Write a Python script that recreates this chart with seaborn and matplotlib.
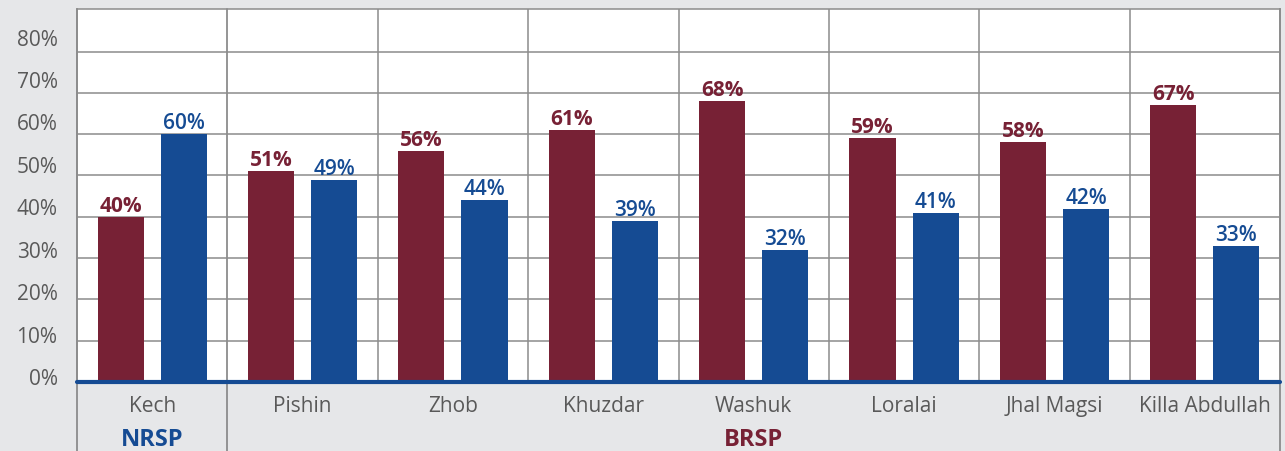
import pandas as pd
import matplotlib.pyplot as plt
import matplotlib.transforms as mtransforms
import seaborn as sns

districts = ["Kech", "Pishin", "Zhob", "Khuzdar", "Washuk", "Loralai", "Jhal Magsi", "Killa Abdullah"]
series_a = [40, 51, 56, 61, 68, 59, 58, 67]
series_b = [60, 49, 44, 39, 32, 41, 42, 33]
series_names = ["A", "B"]
y_ticks = [0, 10, 20, 30, 40, 50, 60, 70, 80]
groups = [("NRSP", 0, 0), ("BRSP", 1, 7)]

MAROON = "#772135"
BLUE = "#154b93"
BG = "#e6e7e9"
GRID = "#8c8c8c"
TXT = "#595959"

df = pd.DataFrame({
    "district": districts * 2,
    "value": series_a + series_b,
    "series": [series_names[0]] * len(districts) + [series_names[1]] * len(districts),
})

sns.set_theme(style="white")
plt.rcParams["font.family"] = ["Open Sans", "DejaVu Sans"]

fig = plt.figure(figsize=(12.85, 4.51), dpi=100, facecolor=BG)
ax = fig.add_axes([77 / 1285, 1 - 382 / 451, (1280 - 77) / 1285, (382 - 9) / 451])
ax.set_facecolor("white")

sns.barplot(data=df, x="district", y="value", hue="series", order=districts,
            palette=[MAROON, BLUE], width=0.84, gap=0.27, saturation=1,
            linewidth=0, legend=False, ax=ax, zorder=2)

ax.set_ylim(0, 90.3)
ax.set_xlim(-0.5, len(districts) - 0.5)
ax.set_yticks(y_ticks)
ax.set_yticklabels([f"{t}%" for t in y_ticks])
ax.tick_params(axis="y", length=0, pad=14, labelsize=15, labelcolor=TXT)
ax.tick_params(axis="x", length=0, pad=10, labelsize=15, labelcolor=TXT)
ax.set_xlabel("")
ax.set_ylabel("")

# tick labels sit a little above their grid lines, more so toward the top
for t, lab in zip(y_ticks, ax.get_yticklabels()):
    dy = (5 + 9 * t / 80) / 100
    lab.set_transform(lab.get_transform() + mtransforms.ScaledTranslation(0, dy, fig.dpi_scale_trans))

ax.yaxis.grid(True, color=GRID, linewidth=1.1, zorder=0)
ax.set_axisbelow(True)
for i in range(2, len(districts)):
    ax.axvline(i - 0.5, color=GRID, linewidth=1.1, zorder=1)

# separators that run down to the figure edge
for xv in [-0.5, 0.5, len(districts) - 0.5]:
    ax.axvline(xv, ymin=-0.2, ymax=1, color=GRID, linewidth=1.3, clip_on=False, zorder=1)

for side in ["top", "left", "right"]:
    ax.spines[side].set_color(GRID)
    ax.spines[side].set_linewidth(1.1)
ax.spines["bottom"].set_visible(False)
ax.axhline(0, color=BLUE, linewidth=3, zorder=3, clip_on=False)

for container, color, weight in zip(ax.containers, [MAROON, BLUE], ["bold", "semibold"]):
    ax.bar_label(container, labels=[f"{v:.0f}%" for v in container.datavalues],
                 padding=0, color=color, fontsize=15, fontweight=weight)

for name, start, end in groups:
    ax.text((start + end) / 2, -0.155, name, transform=ax.get_xaxis_transform(),
            ha="center", va="center", fontsize=17, fontweight="bold",
            color=BLUE if name == "NRSP" else MAROON)

fig.savefig("out.png", dpi=100, facecolor=BG)
